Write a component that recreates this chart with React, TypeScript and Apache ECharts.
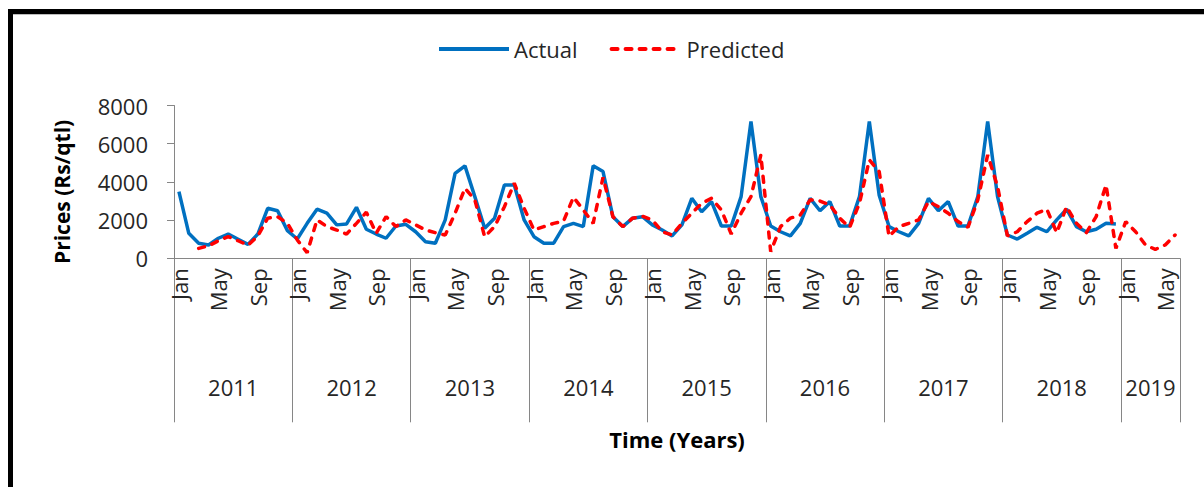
import React, { useEffect, useRef } from "react";
import * as echarts from "echarts";

const months = ["Jan", "Feb", "Mar", "Apr", "May", "Jun", "Jul", "Aug", "Sep", "Oct", "Nov", "Dec"];
const years = ["2011", "2012", "2013", "2014", "2015", "2016", "2017", "2018", "2019"];
const monthsPerYear = [12, 12, 12, 12, 12, 12, 12, 12, 6];

// Actual prices (Rs/qtl), Jan 2011 – Dec 2018
const actual2011 = [3490, 1310, 790, 700, 1050, 1270, 1000, 730, 1270, 2620, 2490, 1450];
const actual2012 = [1010, 1830, 2570, 2360, 1750, 1800, 2670, 1520, 1270, 1050, 1690, 1780];
const actual2013 = [1390, 870, 790, 2010, 4450, 4840, 3230, 1570, 2100, 3840, 3840, 2010];
const actual2014 = [1130, 790, 790, 1660, 1830, 1660, 4840, 4540, 2180, 1660, 2100, 2180];
const actual2015 = [1750, 1480, 1170, 1750, 3140, 2440, 2970, 1690, 1690, 3230, 7160, 3230];
const actual2016 = [1690, 1390, 1170, 1830, 3140, 2490, 2970, 1690, 1690, 3230, 7160, 3300];
const actual2017 = [1660, 1390, 1170, 1830, 3140, 2490, 2970, 1690, 1690, 3230, 7160, 3230];
const actual2018 = [1220, 1010, 1310, 1620, 1390, 2010, 2570, 1660, 1390, 1520, 1830, 1800];

// Predicted prices (Rs/qtl), Mar 2011 – Jun 2019
const predicted2011 = [null, null, 520, 650, 920, 1130, 920, 680, 1170, 2100, 2180, 1830];
const predicted2012 = [960, 290, 2010, 1660, 1480, 1270, 1830, 2410, 1310, 2180, 1660, 2010];
const predicted2013 = [1750, 1480, 1340, 1220, 2360, 3670, 3060, 1130, 1660, 2700, 3930, 2620];
const predicted2014 = [1480, 1660, 1830, 1950, 3200, 2530, 1830, 4240, 2180, 1660, 2100, 2200];
const predicted2015 = [2010, 1390, 1220, 1830, 2360, 2880, 3140, 2530, 1270, 2360, 3230, 5410];
const predicted2016 = [350, 1660, 2100, 2270, 3060, 3000, 2790, 2100, 1620, 2880, 5150, 4540];
const predicted2017 = [1150, 1660, 1830, 2010, 2970, 2700, 2360, 1920, 1620, 3060, 5410, 3760];
const predicted2018 = [1170, 1390, 1920, 2360, 2570, 1340, 2700, 1830, 1340, 2180, 3840, 520];
const predicted2019 = [1920, 1390, 700, 470, 700, 1220];

const yTicks = { min: 0, max: 8000, interval: 2000 };

const FONT = "'Open Sans', 'Noto Sans', sans-serif";

export default function App() {
  const ref = useRef<HTMLDivElement>(null);

  useEffect(() => {
    if (!ref.current) return;
    const chart = echarts.init(ref.current, undefined, { renderer: "svg" });

    const categories: string[] = [];
    years.forEach((y, yi) => {
      for (let m = 0; m < monthsPerYear[yi]; m++) categories.push(months[m] + " " + y);
    });
    const actual: (number | null)[] = [
      ...actual2011, ...actual2012, ...actual2013, ...actual2014,
      ...actual2015, ...actual2016, ...actual2017, ...actual2018,
    ];
    while (actual.length < categories.length) actual.push(null);
    const predicted: (number | null)[] = [
      ...predicted2011, ...predicted2012, ...predicted2013, ...predicted2014,
      ...predicted2015, ...predicted2016, ...predicted2017, ...predicted2018, ...predicted2019,
    ];
    const n = categories.length;
    const lastYearStart = n - monthsPerYear[monthsPerYear.length - 1];
    const lastYearMid = lastYearStart + Math.floor(monthsPerYear[monthsPerYear.length - 1] / 2) - 1;

    const option: any = {
      animation: false,
      textStyle: { fontFamily: FONT },
      legend: {
        data: ["Actual", "Predicted"],
        left: 437,
        top: 38,
        padding: 0,
        itemWidth: 70,
        itemHeight: 14,
        itemGap: 32,
        itemStyle: { opacity: 0 },
        lineStyle: { width: 4 },
        textStyle: { fontSize: 22, color: "#262626", fontFamily: FONT },
      },
      grid: { left: 174, right: 24, top: 105.5, bottom: 228.7, containLabel: false },
      xAxis: [
        {
          type: "category",
          data: categories,
          position: "bottom",
          offset: 0,
          boundaryGap: true,
          axisLine: { show: true, lineStyle: { color: "#868686", width: 1 } },
          axisTick: { show: false },
          splitLine: { show: false },
          axisLabel: {
            interval: (i: number) => i % 4 === 0,
            rotate: 90,
            margin: 10,
            fontSize: 22,
            color: "#262626",
            fontFamily: FONT,
            formatter: (v: string) => v.split(" ")[0],
          },
        },
        {
          type: "category",
          data: categories,
          position: "bottom",
          offset: 0,
          boundaryGap: true,
          axisLine: { show: false },
          axisTick: {
            show: true,
            interval: (i: number) => i % 12 === 0,
            length: 164,
            lineStyle: { color: "#868686", width: 1 },
          },
          splitLine: { show: false },
          axisLabel: {
            interval: (i: number) => (i < lastYearStart ? i % 12 === 5 : i === lastYearMid),
            margin: 118,
            fontSize: 22,
            color: "#262626",
            fontFamily: FONT,
            padding: [0, 0, 0, 10],
            formatter: (v: string) => v.split(" ")[1],
          },
          name: "Time (Years)",
          nameLocation: "middle",
          nameGap: 170,
          nameTextStyle: { fontSize: 22, fontWeight: "bold", color: "#000", fontFamily: FONT },
        },
      ],
      yAxis: {
        type: "value",
        min: yTicks.min,
        max: yTicks.max,
        interval: yTicks.interval,
        axisLine: { show: true, lineStyle: { color: "#868686", width: 1 } },
        axisTick: { show: true, length: 7, lineStyle: { color: "#868686" } },
        splitLine: { show: false },
        axisLabel: {
          fontSize: 22,
          color: "#262626",
          margin: 26,
          fontFamily: FONT,
          formatter: (v: number) => String(v),
        },
        name: "Prices (Rs/qtl)",
        nameLocation: "middle",
        nameRotate: 90,
        nameGap: 102,
        nameTextStyle: { fontSize: 21, fontWeight: "bold", color: "#000", fontFamily: FONT, padding: [0, 20, 0, 0] },
      },
      series: [
        {
          name: "Actual",
          type: "line",
          data: actual,
          xAxisIndex: 0,
          symbol: "none",
          showSymbol: false,
          connectNulls: false,
          lineStyle: { color: "#0070C0", width: 3.5 },
          itemStyle: { color: "#0070C0" },
        },
        {
          name: "Predicted",
          type: "line",
          data: predicted,
          xAxisIndex: 0,
          symbol: "none",
          showSymbol: false,
          connectNulls: false,
          lineStyle: { color: "#FF0000", width: 3.5, type: [6, 8], cap: "round" },
          itemStyle: { color: "#FF0000" },
        },
      ],
    };

    chart.setOption(option);
    return () => chart.dispose();
  }, []);

  return (
    <div style={{ position: "fixed", left: 0, top: 0, width: 1204, height: 487, background: "#fff", overflow: "hidden" }}>
      <div
        style={{
          position: "absolute",
          left: 8,
          top: 9,
          width: 1220,
          height: 500,
          borderTop: "5px solid #000",
          borderLeft: "5px solid #000",
          boxSizing: "border-box",
        }}
      />
      <div style={{ position: "absolute", left: 13, top: 14, width: 1200, height: 1, background: "#bdbdbd" }} />
      <div ref={ref} style={{ position: "absolute", left: 0, top: 0, width: 1204, height: 487 }} />
    </div>
  );
}
